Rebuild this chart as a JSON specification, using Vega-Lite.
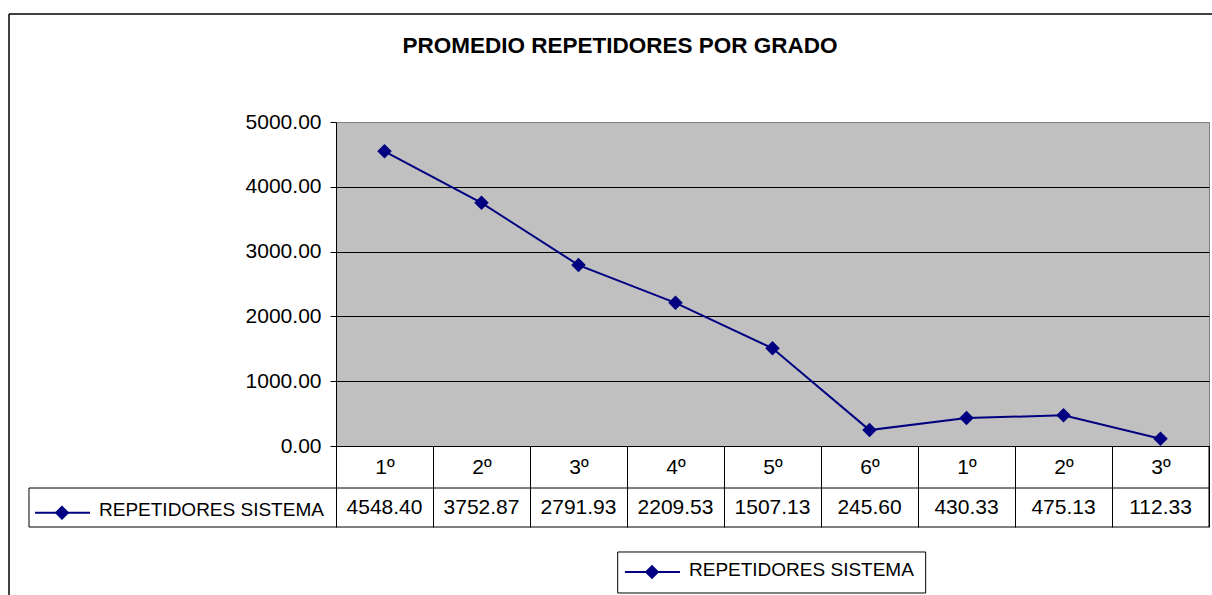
{
  "$schema": "https://vega.github.io/schema/vega-lite/v6.json",
  "width": 873,
  "height": 324,
  "autosize": {"type": "none"},
  "padding": {"left": 336, "top": 122, "right": 3, "bottom": 149},
  "background": "white",
  "config": {
    "font": "Liberation Sans",
    "view": {"fill": "#C0C0C0", "stroke": "#808080", "strokeWidth": 1}
  },
  "datasets": {
    "grados": [
      {"id": "Primaria 1º", "grado": "1º", "value": 4548.40},
      {"id": "Primaria 2º", "grado": "2º", "value": 3752.87},
      {"id": "Primaria 3º", "grado": "3º", "value": 2791.93},
      {"id": "Primaria 4º", "grado": "4º", "value": 2209.53},
      {"id": "Primaria 5º", "grado": "5º", "value": 1507.13},
      {"id": "Primaria 6º", "grado": "6º", "value": 245.60},
      {"id": "Secundaria 1º", "grado": "1º", "value": 430.33},
      {"id": "Secundaria 2º", "grado": "2º", "value": 475.13},
      {"id": "Secundaria 3º", "grado": "3º", "value": 112.33}
    ],
    "serie": [{"serie": "REPETIDORES SISTEMA", "titulo": "PROMEDIO REPETIDORES POR GRADO"}]
  },
  "layer": [
    {
      "data": {"name": "grados"},
      "encoding": {
        "x": {
          "field": "id", "type": "nominal", "sort": null,
          "scale": {"type": "band", "paddingInner": 0, "paddingOuter": 0},
          "axis": {
            "orient": "bottom", "title": null, "grid": false,
            "domainColor": "#000000", "tickColor": "#000000",
            "tickBand": "extent", "tickSize": 81,
            "labelFontSize": 21, "labelColor": "#000000", "labelAngle": 0,
            "labelPadding": -60, "labelBaseline": "middle",
            "labelExpr": "split(datum.label, ' ')[1]"
          }
        }
      },
      "layer": [
        {
          "mark": {"type": "line", "color": "#000080", "strokeWidth": 2},
          "encoding": {
            "y": {
              "field": "value", "type": "quantitative",
              "scale": {"domain": [0, 5000], "nice": false, "zero": true},
              "axis": {
                "title": null, "values": [0, 1000, 2000, 3000, 4000, 5000],
                "format": ".2f", "labelFontSize": 21, "labelColor": "#000000",
                "tickSize": 6, "tickColor": "#000000", "labelPadding": 9,
                "domainColor": "#000000", "grid": true, "gridOpacity": 1,
                "gridColor": {"condition": {"test": "datum.value >= 5000", "value": "#808080"}, "value": "#000000"}
              }
            }
          }
        },
        {
          "mark": {"type": "point", "shape": "diamond", "filled": true, "color": "#000080", "size": 210, "opacity": 1},
          "encoding": {"y": {"field": "value", "type": "quantitative"}}
        },
        {
          "mark": {"type": "text", "fontSize": 21, "baseline": "middle", "align": "center", "color": "#000000", "font": "Liberation Sans"},
          "encoding": {
            "y": {"datum": -956.8, "type": "quantitative"},
            "text": {"field": "value", "type": "quantitative", "format": ".2f"}
          }
        }
      ]
    },
    {
      "data": {"name": "serie"},
      "layer": [
        {
          "mark": {"type": "rule", "color": "#000000", "strokeWidth": 1},
          "encoding": {
            "x": {"datum": -3.165, "type": "quantitative", "scale": {"domain": [0, 9], "nice": false, "zero": false}, "axis": null},
            "x2": {"datum": 9},
            "y": {"datum": -648.15, "type": "quantitative"}
          }
        },
        {
          "mark": {"type": "rule", "color": "#000000", "strokeWidth": 1},
          "encoding": {
            "x": {"datum": -3.165, "type": "quantitative"},
            "x2": {"datum": 9},
            "y": {"datum": -1250, "type": "quantitative"}
          }
        },
        {
          "mark": {"type": "rule", "color": "#000000", "strokeWidth": 1},
          "encoding": {
            "x": {"datum": -3.165, "type": "quantitative"},
            "y": {"datum": -648.15, "type": "quantitative"},
            "y2": {"datum": -1250}
          }
        },
        {
          "mark": {"type": "rule", "color": "#000000", "strokeWidth": 1},
          "encoding": {
            "x": {"datum": 9, "type": "quantitative"},
            "y": {"datum": 0, "type": "quantitative"},
            "y2": {"datum": -1250}
          }
        },
        {
          "mark": {"type": "rule", "color": "#000080", "strokeWidth": 2},
          "encoding": {
            "x": {"datum": -3.103, "type": "quantitative"},
            "x2": {"datum": -2.536},
            "y": {"datum": -1029, "type": "quantitative"}
          }
        },
        {
          "mark": {"type": "point", "shape": "diamond", "filled": true, "color": "#000080", "size": 210, "opacity": 1},
          "encoding": {
            "x": {"datum": -2.825, "type": "quantitative"},
            "y": {"datum": -1029, "type": "quantitative"}
          }
        },
        {
          "mark": {"type": "text", "fontSize": 19, "align": "left", "baseline": "middle", "color": "#000000", "font": "Liberation Sans"},
          "encoding": {
            "x": {"datum": -2.443, "type": "quantitative"},
            "y": {"datum": -980, "type": "quantitative"},
            "text": {"field": "serie", "type": "nominal"}
          }
        },
        {
          "mark": {"type": "rect", "fill": "#FFFFFF", "fillOpacity": 0, "stroke": "#000000", "strokeWidth": 1},
          "encoding": {
            "x": {"datum": 2.904, "type": "quantitative"},
            "x2": {"datum": 6.079},
            "y": {"datum": -1635.8, "type": "quantitative"},
            "y2": {"datum": -2268.5}
          }
        },
        {
          "mark": {"type": "rule", "color": "#000080", "strokeWidth": 2},
          "encoding": {
            "x": {"datum": 2.979, "type": "quantitative"},
            "x2": {"datum": 3.546},
            "y": {"datum": -1944.4, "type": "quantitative"}
          }
        },
        {
          "mark": {"type": "point", "shape": "diamond", "filled": true, "color": "#000080", "size": 210, "opacity": 1},
          "encoding": {
            "x": {"datum": 3.258, "type": "quantitative"},
            "y": {"datum": -1944.4, "type": "quantitative"}
          }
        },
        {
          "mark": {"type": "text", "fontSize": 19, "align": "left", "baseline": "middle", "color": "#000000", "font": "Liberation Sans"},
          "encoding": {
            "x": {"datum": 3.639, "type": "quantitative"},
            "y": {"datum": -1913.6, "type": "quantitative"},
            "text": {"field": "serie", "type": "nominal"}
          }
        },
        {
          "mark": {"type": "rule", "color": "#000000", "strokeWidth": 1.5},
          "encoding": {
            "x": {"datum": -3.371, "type": "quantitative"},
            "x2": {"datum": 9.3},
            "y": {"datum": 6666.7, "type": "quantitative"}
          }
        },
        {
          "mark": {"type": "rule", "color": "#000000", "strokeWidth": 1.5},
          "encoding": {
            "x": {"datum": -3.371, "type": "quantitative"},
            "y": {"datum": 6666.7, "type": "quantitative"},
            "y2": {"datum": -2600}
          }
        },
        {
          "mark": {"type": "text", "fontSize": 22.5, "fontWeight": "bold", "align": "center", "baseline": "middle", "color": "#000000", "font": "Liberation Sans"},
          "encoding": {
            "x": {"datum": 2.928, "type": "quantitative"},
            "y": {"datum": 6172.8, "type": "quantitative"},
            "text": {"field": "titulo", "type": "nominal"}
          }
        }
      ]
    }
  ],
  "resolve": {"scale": {"x": "independent"}}
}
